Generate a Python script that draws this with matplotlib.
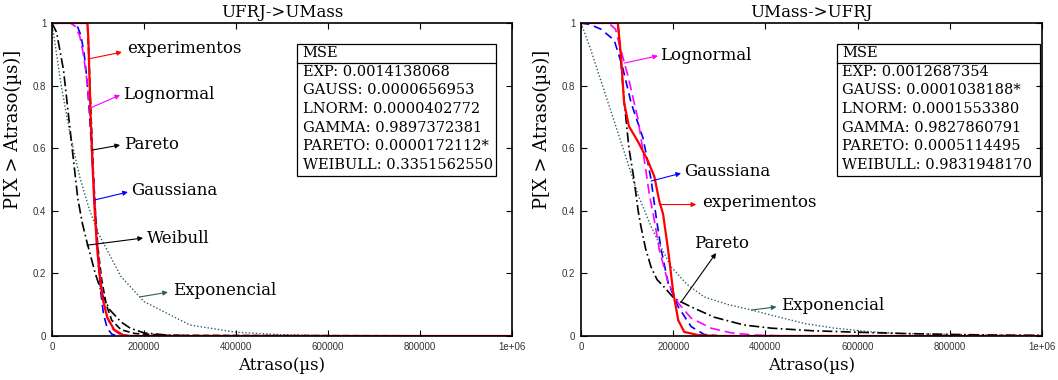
import numpy as np
import matplotlib.pyplot as plt

dpi = 100
W, H = 1058, 380

serif = ['DejaVu Serif']
sans = ['Liberation Sans', 'DejaVu Sans']

# ---- UFRJ->UMass (left) : x in us, y = P[X > x]
l_exp_x = [0, 77000, 79000, 81000, 84000, 88000, 92000, 97000, 103000, 110000, 120000, 135000, 155000, 170000, 1000000]
l_exp_y = [1, 1, 0.95, 0.85, 0.7, 0.55, 0.42, 0.3, 0.2, 0.12, 0.06, 0.02, 0.003, 0, 0]
l_lnorm_x = [0, 40000, 50000, 60000, 67000, 74000, 80000, 84000, 88000, 92000, 96000, 100000, 106000, 112000, 120000, 130000, 145000, 165000, 200000, 1000000]
l_lnorm_y = [1, 1, 0.99, 0.96, 0.91, 0.84, 0.76, 0.68, 0.57, 0.45, 0.35, 0.27, 0.18, 0.11, 0.06, 0.025, 0.007, 0.001, 0, 0]
l_gauss_x = [0, 45000, 55000, 63000, 70000, 76000, 81000, 86000, 91000, 96000, 101000, 106000, 112000, 120000, 130000, 140000, 150000, 1000000]
l_gauss_y = [1, 1, 0.99, 0.96, 0.9, 0.82, 0.72, 0.6, 0.47, 0.34, 0.23, 0.14, 0.07, 0.025, 0.006, 0.001, 0, 0]
l_pareto_x = [0, 77000, 80000, 85000, 90000, 95000, 100000, 108000, 118000, 130000, 150000, 180000, 250000, 1000000]
l_pareto_y = [1, 1, 0.9, 0.7, 0.52, 0.38, 0.28, 0.18, 0.1, 0.05, 0.02, 0.008, 0.002, 0]
l_weib_x = [0, 10000, 25000, 40000, 56000, 66000, 76000, 94000, 110000, 126000, 150000, 170000, 200000, 250000, 300000, 1000000]
l_weib_y = [1, 0.97, 0.85, 0.65, 0.44, 0.36, 0.3, 0.2, 0.13, 0.083, 0.045, 0.025, 0.01, 0.003, 0.001, 0]
l_expo_x = [0, 20000, 40000, 60000, 80000, 100000, 150000, 200000, 300000, 400000, 500000, 600000, 800000, 1000000]
l_expo_y = [1, 0.8, 0.64, 0.51, 0.41, 0.33, 0.19, 0.11, 0.035, 0.012, 0.004, 0.0015, 0.0002, 0]

# ---- UMass->UFRJ (right)
r_exp_x = [0, 80000, 87000, 93500, 104000, 124000, 145000, 159000, 170000, 178000, 189000, 200000, 211000, 224000, 254000, 300000, 1000000]
r_exp_y = [1, 1, 0.89, 0.745, 0.67, 0.62, 0.56, 0.51, 0.43, 0.39, 0.275, 0.14, 0.05, 0.013, 0.003, 0, 0]
r_gauss_x = [0, 20000, 43500, 72000, 90000, 108700, 135000, 152000, 163000, 174000, 189000, 211000, 239000, 267000, 300000, 1000000]
r_gauss_y = [1, 0.995, 0.98, 0.945, 0.86, 0.745, 0.63, 0.5, 0.38, 0.275, 0.17, 0.093, 0.03, 0.005, 0, 0]
r_lnorm_x = [0, 60000, 75000, 82600, 102000, 124000, 135000, 148000, 159000, 170000, 189000, 211000, 239000, 282000, 326000, 376000, 450000, 1000000]
r_lnorm_y = [1, 1, 0.98, 0.935, 0.83, 0.69, 0.585, 0.455, 0.37, 0.275, 0.17, 0.105, 0.057, 0.025, 0.01, 0.003, 0, 0]
r_pareto_x = [0, 80000, 84000, 89000, 94000, 104000, 115000, 124000, 130000, 140000, 152000, 165000, 180000, 202000, 239000, 289000, 354000, 413000, 500000, 600000, 700000, 800000, 900000, 1000000]
r_pareto_y = [1, 1, 0.93, 0.83, 0.745, 0.6, 0.5, 0.4, 0.35, 0.28, 0.22, 0.18, 0.157, 0.12, 0.093, 0.06, 0.035, 0.025, 0.017, 0.012, 0.008, 0.005, 0.003, 0.002]
r_expo_x = [0, 20000, 40000, 60000, 80000, 100000, 124000, 152000, 175000, 196000, 230000, 267000, 320000, 370000, 430000, 485000, 550000, 630000, 700000, 800000, 900000, 1000000]
r_expo_y = [1, 0.92, 0.83, 0.74, 0.65, 0.56, 0.45, 0.35, 0.28, 0.22, 0.165, 0.125, 0.1, 0.083, 0.06, 0.04, 0.025, 0.013, 0.008, 0.005, 0.003, 0.002]

titles = ['UFRJ->UMass', 'UMass->UFRJ']
xticks = [0, 200000, 400000, 600000, 800000, 1000000]
xticklabels = ['0', '200000', '400000', '600000', '800000', '1e+06']
yticks = [0, 0.2, 0.4, 0.6, 0.8, 1]
yticklabels = ['0', '0.2', '0.4', '0.6', '0.8', '1']

mse_left = ['EXP: 0.0014138068', 'GAUSS: 0.0000656953', 'LNORM: 0.0000402772',
            'GAMMA: 0.9897372381', 'PARETO: 0.0000172112*', 'WEIBULL: 0.3351562550']
mse_right = ['EXP: 0.0012687354', 'GAUSS: 0.0001038188*', 'LNORM: 0.0001553380',
             'GAMMA: 0.9827860791', 'PARETO: 0.0005114495', 'WEIBULL: 0.9831948170']

RED, MAG, BLUE, BLK, TEAL = '#ff0000', '#ff00ff', '#0000ff', '#000000', '#2f5f5f'

# annotations: (text, tail on curve, arrow head, text anchor, color)
ann_left = [
    ('experimentos', (78400, 0.885), (152000, 0.907), (163000, 0.917), RED),
    ('Lognormal', (82800, 0.728), (148000, 0.77), (155000, 0.77), MAG),
    ('Pareto', (87000, 0.594), (148000, 0.61), (157000, 0.613), BLK),
    ('Gaussiana', (93700, 0.435), (165000, 0.46), (172000, 0.466), BLUE),
    ('Weibull', (76000, 0.29), (198000, 0.313), (207000, 0.31), BLK),
    ('Exponencial', (191700, 0.125), (252000, 0.14), (263000, 0.144), TEAL),
]
ann_right = [
    ('Lognormal', (93500, 0.872), (167000, 0.895), (172000, 0.895), MAG),
    ('Gaussiana', (152000, 0.495), (217000, 0.52), (224000, 0.527), BLUE),
    ('experimentos', (172000, 0.42), (250000, 0.42), (263000, 0.425), RED),
    ('Pareto', (217000, 0.108), (293000, 0.265), (246000, 0.297), BLK),
    ('Exponencial', (370000, 0.083), (424000, 0.093), (433000, 0.096), TEAL),
]

fig = plt.figure(figsize=(W / dpi, H / dpi), dpi=dpi)
axl = fig.add_axes([52 / W, 44 / H, 460 / W, 313 / H])
axr = fig.add_axes([581 / W, 44 / H, 461 / W, 313 / H])


def draw(ax, expo, weib, pareto, gauss, lnorm, exp_, pareto_ls):
    ax.plot(*expo, color=TEAL, lw=1.0, ls=(0, (1, 1.5)))
    if weib is not None:
        ax.plot(*weib, color=BLK, lw=1.2, ls=(0, (6, 2, 1, 2)))
    ax.plot(*pareto, color=BLK, lw=1.2, ls=pareto_ls)
    ax.plot(*gauss, color=BLUE, lw=1.2, ls=(0, (5, 3)))
    ax.plot(*lnorm, color=MAG, lw=1.2, ls=(0, (6, 3)))
    ax.plot(*exp_, color=RED, lw=1.6)


draw(axl, (l_expo_x, l_expo_y), (l_weib_x, l_weib_y), (l_pareto_x, l_pareto_y),
     (l_gauss_x, l_gauss_y), (l_lnorm_x, l_lnorm_y), (l_exp_x, l_exp_y), (0, (4, 2)))
draw(axr, (r_expo_x, r_expo_y), None, (r_pareto_x, r_pareto_y),
     (r_gauss_x, r_gauss_y), (r_lnorm_x, r_lnorm_y), (r_exp_x, r_exp_y), (0, (6, 2, 1, 2)))

for ax, title, anns, mse, bx in [(axl, titles[0], ann_left, mse_left, (0.533, 0.965)),
                                 (axr, titles[1], ann_right, mse_right, (0.555, 0.996))]:
    ax.set_xlim(0, 1000000)
    ax.set_ylim(0, 1)
    ax.set_xticks(xticks)
    ax.set_xticklabels(xticklabels)
    ax.set_yticks(yticks)
    ax.set_yticklabels(yticklabels)
    ax.tick_params(direction='in', length=4, width=0.8, top=True, right=True,
                   labelsize=7, pad=4)
    for lab in ax.get_xticklabels() + ax.get_yticklabels():
        lab.set_family(sans)
        lab.set_color('#333333')
    for s in ax.spines.values():
        s.set_linewidth(1.2)
    ax.set_title(title, family=serif, fontsize=12, pad=4)
    ax.set_xlabel('Atraso(µs)', family=serif, fontsize=12, labelpad=4)
    ax.set_ylabel('P[X > Atraso(µs)]', family=serif, fontsize=13)
    ax.yaxis.set_label_coords(-0.065, 0.66)

    for txt, tail, head, pos, c in anns:
        ax.annotate('', xy=head, xytext=tail,
                    arrowprops=dict(arrowstyle='-|>', color=c, lw=0.8,
                                    mutation_scale=7, shrinkA=0, shrinkB=0))
        ax.text(pos[0], pos[1], txt, family=serif, fontsize=12, va='center', ha='left')

    # MSE box
    x0, x1 = bx
    y0, y1, yh = 0.51, 0.934, 0.872
    ax.add_patch(plt.Rectangle((x0, y0), x1 - x0, y1 - y0, transform=ax.transAxes,
                               fill=False, lw=0.9, ec='black', zorder=5))
    ax.plot([x0, x1], [yh, yh], transform=ax.transAxes, color='black', lw=0.9, zorder=5)
    ax.text(x0 + 0.012, 0.903, 'MSE', transform=ax.transAxes, family=serif,
            fontsize=10.5, va='center', ha='left')
    for i, line in enumerate(mse):
        ax.text(x0 + 0.012, 0.845 - i * 0.0597, line, transform=ax.transAxes,
                family=serif, fontsize=10.5, va='center', ha='left')

fig.savefig('out.png', dpi=dpi)
